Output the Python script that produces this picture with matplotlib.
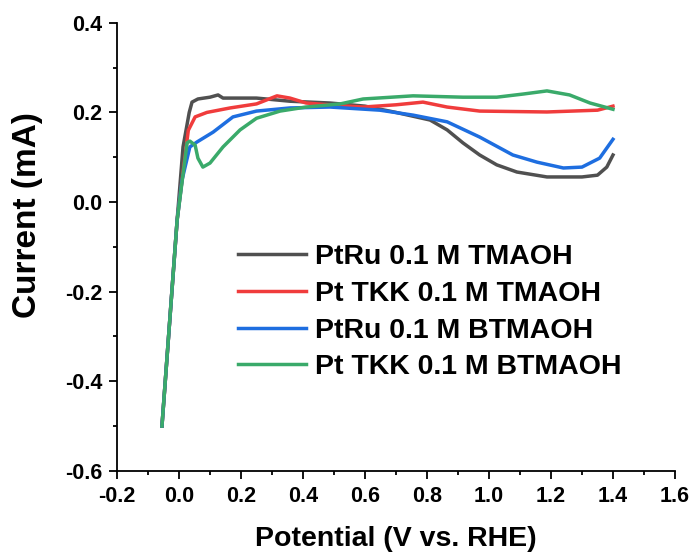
import numpy as np
import matplotlib
matplotlib.use("Agg")
import matplotlib.pyplot as plt
from matplotlib.ticker import MultipleLocator

plt.rcParams['font.family'] = ['Liberation Sans', 'DejaVu Sans']
plt.rcParams['font.weight'] = 'bold'

# data (potential in V vs RHE, current in mA)
x_black = [-0.055, -0.006, 0.013, 0.033, 0.042, 0.061, 0.10, 0.126, 0.142, 0.25, 0.358, 0.487,
           0.60, 0.70, 0.81, 0.865, 0.916, 0.97, 1.025, 1.09, 1.187, 1.30, 1.35, 1.38, 1.40]
y_black = [-0.50, -0.04, 0.123, 0.20, 0.223, 0.230, 0.234, 0.239, 0.232, 0.232, 0.225, 0.221,
           0.214, 0.200, 0.183, 0.161, 0.132, 0.105, 0.083, 0.067, 0.056, 0.056, 0.060, 0.078, 0.105]

x_red = [-0.055, -0.006, 0.003, 0.03, 0.052, 0.09, 0.165, 0.25, 0.316, 0.358, 0.41, 0.52,
         0.594, 0.70, 0.787, 0.865, 0.97, 1.187, 1.35, 1.40]
y_red = [-0.50, -0.04, 0.011, 0.16, 0.19, 0.20, 0.21, 0.219, 0.237, 0.232, 0.221, 0.215,
         0.212, 0.217, 0.223, 0.212, 0.203, 0.201, 0.205, 0.214]

x_blue = [-0.055, -0.006, 0.01, 0.035, 0.058, 0.11, 0.174, 0.25, 0.358, 0.487, 0.648, 0.755,
          0.865, 0.97, 1.077, 1.155, 1.24, 1.30, 1.357, 1.40]
y_blue = [-0.50, -0.04, 0.05, 0.123, 0.134, 0.156, 0.19, 0.203, 0.21, 0.212, 0.205, 0.194,
          0.179, 0.145, 0.105, 0.089, 0.076, 0.078, 0.098, 0.14]

x_green = [-0.055, -0.006, 0.026, 0.035, 0.052, 0.061, 0.077, 0.10, 0.142, 0.197, 0.25, 0.326,
           0.41, 0.52, 0.594, 0.755, 0.916, 1.025, 1.11, 1.187, 1.26, 1.326, 1.40]
y_green = [-0.50, -0.04, 0.132, 0.136, 0.127, 0.098, 0.078, 0.087, 0.123, 0.161, 0.187, 0.203,
           0.212, 0.219, 0.230, 0.237, 0.234, 0.234, 0.241, 0.248, 0.239, 0.221, 0.207]

labels = ['PtRu 0.1 M TMAOH', 'Pt TKK 0.1 M TMAOH', 'PtRu 0.1 M BTMAOH', 'Pt TKK 0.1 M BTMAOH']
colors = ['#505050', '#f03c3c', '#1e6ee0', '#3aaa6a']

fig = plt.figure(figsize=(6.94, 5.56), dpi=100)
ax = fig.add_axes([0.1686, 0.153, 0.8040, 0.806])

for xs, ys, c, lab in zip([x_black, x_red, x_blue, x_green],
                          [y_black, y_red, y_blue, y_green], colors, labels):
    ax.plot(xs, ys, color=c, lw=2.5, label=lab)

ax.set_xlim(-0.2, 1.6)
ax.set_ylim(-0.6, 0.4)
xt = np.arange(-0.2, 1.61, 0.2)
yt = np.arange(-0.6, 0.41, 0.2)
ax.set_xticks(xt)
ax.set_xticklabels(['%.1f' % v for v in xt])
ax.set_yticks(yt)
ax.set_yticklabels(['%.1f' % v for v in yt])
ax.xaxis.set_minor_locator(MultipleLocator(0.1))
ax.yaxis.set_minor_locator(MultipleLocator(0.1))

for s in ['top', 'right']:
    ax.spines[s].set_visible(False)
for s in ['left', 'bottom']:
    ax.spines[s].set_linewidth(1.3)
ax.tick_params(which='major', direction='out', length=5.5, width=1.3, labelsize=15.5, pad=5)
ax.tick_params(which='minor', direction='out', length=2.7, width=1.3)

ax.set_xlabel('Potential (V vs. RHE)', fontsize=20.5, fontweight='bold')
ax.set_ylabel('Current (mA)', fontsize=24, fontweight='bold')
ax.xaxis.set_label_coords(0.5, -0.122)
ax.yaxis.set_label_coords(-0.133, 0.57)

leg = ax.legend(loc='upper left', bbox_to_anchor=(238 / 694, 1 - 244 / 556),
                bbox_transform=fig.transFigure, frameon=False,
                fontsize=20.5, handlelength=2.4, handletextpad=0.3, labelspacing=0.38,
                borderpad=0, borderaxespad=0)

fig.savefig('out.png', dpi=100)
